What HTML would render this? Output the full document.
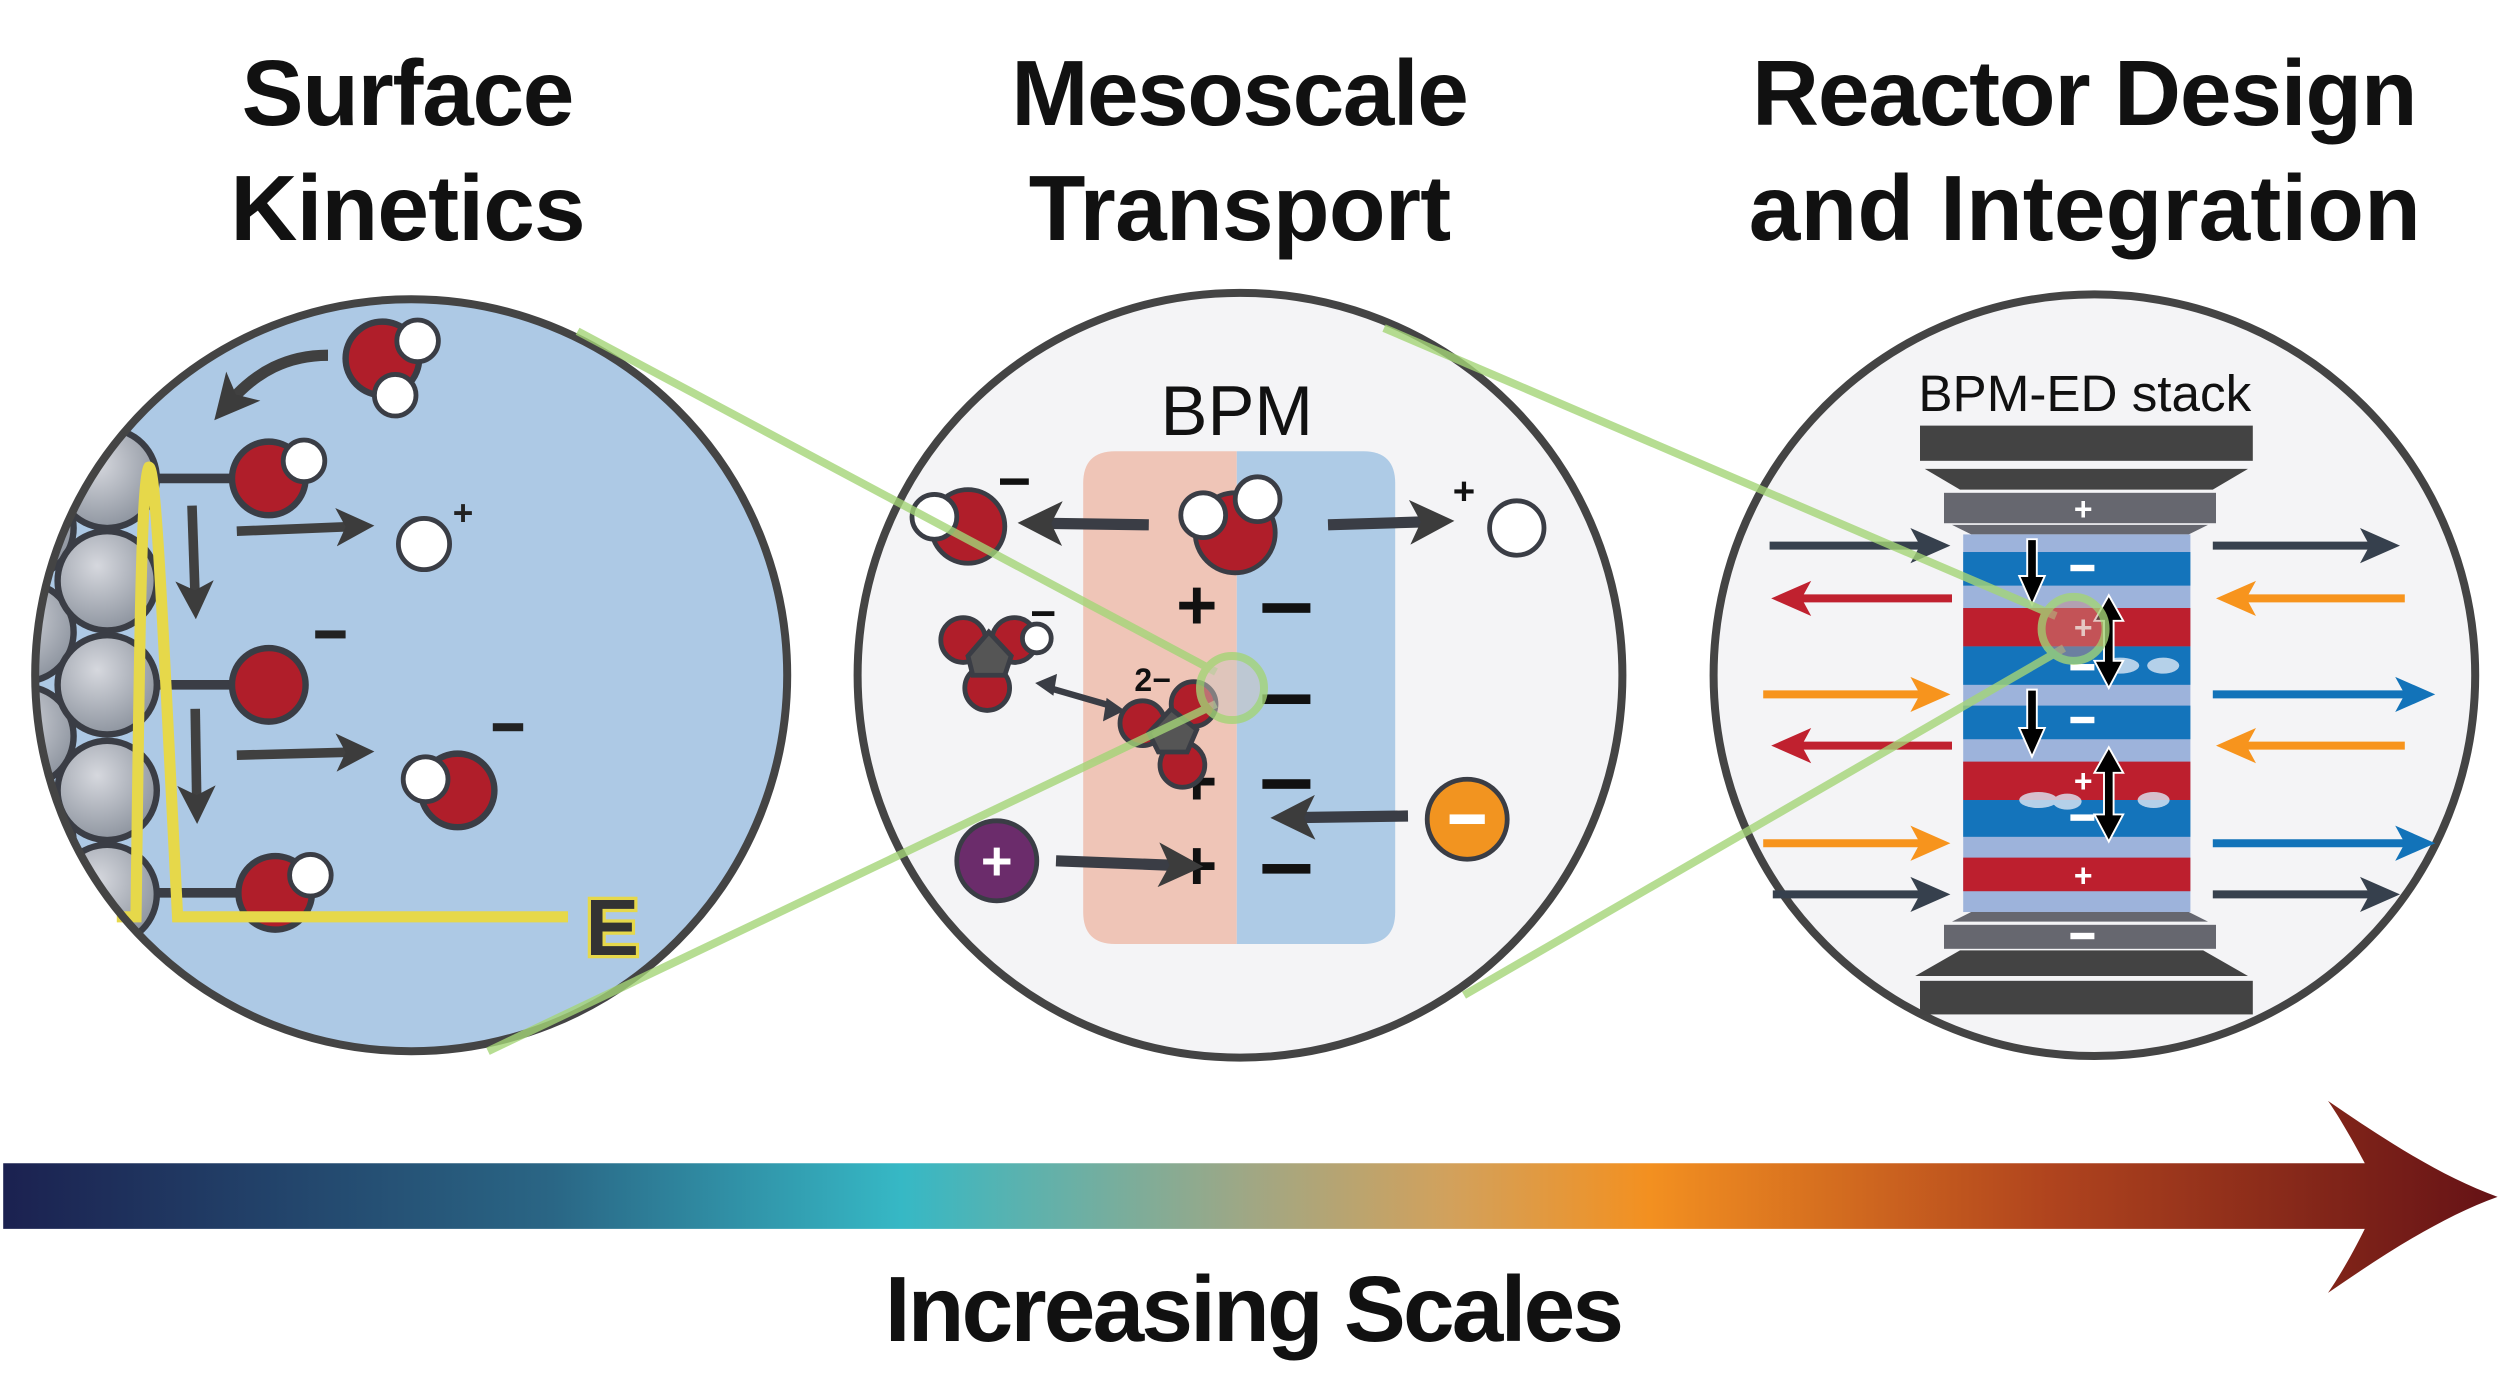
<!DOCTYPE html>
<html><head><meta charset="utf-8"><style>html,body{margin:0;padding:0;background:#fff}svg{display:block}</style></head><body>
<svg width="2500" height="1389" viewBox="0 0 1562.5 868.1" xmlns="http://www.w3.org/2000/svg" font-family="Liberation Sans, sans-serif">
<defs>
<radialGradient id="sph" cx="0.4" cy="0.35" r="0.7"><stop offset="0" stop-color="#d6d8de"/><stop offset="1" stop-color="#8a919c"/></radialGradient>
<linearGradient id="bar" x1="0" x2="1"><stop offset="0" stop-color="#1b2150"/><stop offset="0.22" stop-color="#2a6685"/><stop offset="0.36" stop-color="#36b8c5"/><stop offset="0.5" stop-color="#a0a784"/><stop offset="0.58" stop-color="#d2a15c"/><stop offset="0.66" stop-color="#f39020"/><stop offset="0.82" stop-color="#b0441e"/><stop offset="1" stop-color="#651216"/></linearGradient>
<clipPath id="cl"><circle cx="257" cy="422" r="235"/></clipPath>
<marker id="ah" markerWidth="4" markerHeight="4" refX="2" refY="2" orient="auto" markerUnits="strokeWidth"><path d="M0,0 L4,2 L0,4 L1,2Z" fill="#3c3c3c"/></marker>
</defs>
<g font-weight="bold" font-size="58" fill="#111" text-anchor="middle">
<text x="255" y="78" textLength="208">Surface</text>
<text x="255" y="150" textLength="222">Kinetics</text>
<text x="775" y="78" textLength="286">Mesoscale</text>
<text x="775" y="150" textLength="264">Transport</text>
<text x="1303" y="78" textLength="416">Reactor Design</text>
<text x="1303" y="150" textLength="420">and Integration</text>
<text x="784" y="838" textLength="462">Increasing Scales</text>
</g>
<circle cx="257" cy="422" r="235" fill="#adc9e5"/>
<g clip-path="url(#cl)" stroke="#3a3d45" stroke-width="4">
<g fill="url(#sph)">
<circle cx="15" cy="330" r="31"/><circle cx="15" cy="395" r="31"/><circle cx="15" cy="460" r="31"/><circle cx="15" cy="526" r="31"/><circle cx="15" cy="590" r="31"/>
<circle cx="67" cy="299" r="31"/><circle cx="67" cy="363" r="31"/><circle cx="67" cy="428" r="31"/><circle cx="67" cy="494" r="31"/><circle cx="67" cy="559" r="31"/><circle cx="67" cy="624" r="31"/>
</g>
<line x1="98" y1="299" x2="146" y2="299" stroke-width="6"/>
<line x1="98" y1="428" x2="146" y2="428" stroke-width="6"/>
<line x1="98" y1="558" x2="150" y2="558" stroke-width="6"/>
<g fill="#b01e2a"><circle cx="168" cy="299" r="23"/><circle cx="168" cy="428" r="23"/><circle cx="172" cy="558" r="23"/><circle cx="239" cy="224" r="23"/><circle cx="286" cy="494" r="23"/></g>
<g fill="#fff" stroke-width="3"><circle cx="190" cy="288" r="13"/><circle cx="194" cy="547" r="13"/><circle cx="261" cy="213" r="13"/><circle cx="247" cy="247" r="13"/><circle cx="266" cy="487" r="14"/><circle cx="265" cy="340" r="16"/></g>
</g>
<g fill="#222" font-weight="bold"><text x="283" y="328" font-size="22">+</text><rect x="197" y="394" width="19" height="5"/><rect x="308" y="452" width="19" height="5"/></g>
<g stroke="#404040" fill="#404040">
<path d="M148,332 L222,329" stroke-width="6" marker-end="url(#ah)"/>
<path d="M148,472 L222,470" stroke-width="6" marker-end="url(#ah)"/>
<path d="M120,316 L122,375" stroke-width="6" marker-end="url(#ah)"/>
<path d="M122,443 L123,503" stroke-width="6" marker-end="url(#ah)"/>
<path d="M205,222 C180,222 160,232 143,252" stroke-width="7" fill="none" marker-end="url(#ah)"/>
</g>
<path d="M73,573 L85,573 C87,420 88,300 93,292 C98,290 103,420 111,573 L355,573" stroke="#e6d84a" stroke-width="7" fill="none"/>
<text x="366" y="597" font-size="50" font-weight="bold" fill="#333" stroke="#e6d84a" stroke-width="4" paint-order="stroke">E</text>
<circle cx="257" cy="422" r="235" fill="none" stroke="#444" stroke-width="5"/>
<circle cx="775" cy="422" r="239" fill="#f4f4f6" stroke="#444" stroke-width="5"/>
<text x="773" y="272" font-size="44" text-anchor="middle" fill="#111">BPM</text>
<path d="M697,282 H773 V590 H697 Q677,590 677,570 V302 Q677,282 697,282Z" fill="#efc5b7"/>
<path d="M773,282 H852 Q872,282 872,302 V570 Q872,590 852,590 H773Z" fill="#aecbe6"/>
<g font-size="44" font-weight="bold" fill="#111" text-anchor="middle"><text x="748" y="393">+</text><text x="748" y="503">+</text><text x="748" y="556">+</text></g>
<g fill="#111"><rect x="789" y="377" width="30" height="6"/><rect x="789" y="434" width="30" height="6"/><rect x="789" y="487" width="30" height="6"/><rect x="789" y="540" width="30" height="6"/></g>
<g stroke="#3a3d45" stroke-width="3">
<circle cx="772" cy="333" r="25" fill="#b01e2a"/><circle cx="786" cy="312" r="14" fill="#fff"/><circle cx="752" cy="322" r="14" fill="#fff"/>
<circle cx="605" cy="329" r="23" fill="#b01e2a"/><circle cx="584" cy="323" r="14" fill="#fff"/>
<circle cx="948" cy="330" r="17" fill="#fff"/>
<circle cx="602" cy="400" r="14" fill="#b01e2a"/><circle cx="634" cy="400" r="14" fill="#b01e2a"/><circle cx="617" cy="430" r="14" fill="#b01e2a"/><polygon points="605,410 618,395 632,410 628,422 608,422" fill="#555"/><circle cx="648" cy="399" r="9" fill="#fff"/>
<circle cx="714" cy="452" r="14" fill="#b01e2a"/><circle cx="746" cy="440" r="14" fill="#b01e2a"/><circle cx="739" cy="478" r="14" fill="#b01e2a"/><polygon points="718,458 732,443 748,456 742,470 724,470" fill="#555"/>
<circle cx="623" cy="538" r="25" fill="#6b2c6b"/><circle cx="917" cy="512" r="25" fill="#f29420"/>
</g>
<g fill="#111" font-weight="bold"><rect x="625" y="299" width="18" height="4"/><text x="908" y="315" font-size="24">+</text><rect x="645" y="382" width="14" height="3"/><text x="709" y="432" font-size="20">2−</text></g>
<g fill="#fff" font-weight="bold"><text x="623" y="550" font-size="34" text-anchor="middle">+</text><rect x="906" y="509" width="22" height="6"/></g>
<g stroke="#3a3d45" fill="#3a3d45">
<path d="M718,328 L650,327" stroke-width="7" marker-end="url(#ah)"/>
<path d="M830,328 L895,326" stroke-width="7" marker-end="url(#ah)"/>
<path d="M660,538 L738,541" stroke-width="7" marker-end="url(#ah)"/>
<path d="M880,510 L808,511" stroke-width="7" marker-end="url(#ah)"/>
<path d="M656,430 L694,441" stroke-width="4"/>
<polygon points="648,427 660,422 658,434"/><polygon points="702,444 690,450 692,437"/>
</g>
<circle cx="1309" cy="422" r="238" fill="#f4f4f6" stroke="#444" stroke-width="5"/>
<text x="1303" y="257" font-size="32" text-anchor="middle" fill="#111">BPM-ED stack</text>
<rect x="1200" y="266" width="208" height="22" fill="#434343"/>
<polygon points="1203,293 1405,293 1383,306 1225,306" fill="#434343"/>
<rect x="1215" y="308" width="170" height="19" fill="#66676f"/>
<polygon points="1220,328 1380,328 1368,334 1232,334" fill="#66676f"/>
<g>
<rect x="1227" y="334" width="142" height="236" fill="#9db3db"/>
<rect x="1227" y="345" width="142" height="21" fill="#1474bb"/>
<rect x="1227" y="380" width="142" height="24" fill="#bd1f2e"/>
<rect x="1227" y="404" width="142" height="24" fill="#1474bb"/>
<rect x="1227" y="441" width="142" height="21" fill="#1474bb"/>
<rect x="1227" y="476" width="142" height="24" fill="#bd1f2e"/>
<rect x="1227" y="500" width="142" height="23" fill="#1474bb"/>
<rect x="1227" y="536" width="142" height="21" fill="#bd1f2e"/>
</g>
<polygon points="1232,570 1368,570 1380,576 1220,576" fill="#66676f"/>
<rect x="1215" y="578" width="170" height="15" fill="#66676f"/>
<polygon points="1225,594 1377,594 1405,610 1197,610" fill="#434343"/>
<rect x="1200" y="613" width="208" height="21" fill="#434343"/>
<g fill="#fff" font-weight="bold" font-size="20" text-anchor="middle"><text x="1302" y="325">+</text><text x="1302" y="399">+</text><text x="1302" y="495">+</text><text x="1302" y="554">+</text></g>
<g fill="#fff"><rect x="1294" y="353" width="15" height="4"/><rect x="1294" y="415" width="15" height="4"/><rect x="1294" y="448" width="15" height="4"/><rect x="1294" y="509" width="15" height="4"/><rect x="1294" y="583" width="15" height="4"/></g>
<g fill="#dde8f5" opacity="0.8"><ellipse cx="1325" cy="416" rx="12" ry="5"/><ellipse cx="1352" cy="416" rx="10" ry="5"/><ellipse cx="1274" cy="500" rx="12" ry="5"/><ellipse cx="1292" cy="501" rx="9" ry="5"/><ellipse cx="1346" cy="500" rx="10" ry="5"/></g>
<g fill="#000" stroke="#fff" stroke-width="1.2">
<path d="M1267,337 H1273 V360 H1278 L1270,378 L1262,360 H1267Z"/>
<path d="M1267,431 H1273 V455 H1278 L1270,473 L1262,455 H1267Z"/>
<path d="M1318,372 L1327,388 H1321 V413 H1327 L1318,430 L1309,413 H1315 V388 H1309Z"/>
<path d="M1318,467 L1327,483 H1321 V509 H1327 L1318,526 L1309,509 H1315 V483 H1309Z"/>
</g>
<g stroke-width="5">
<path d="M1106,341 H1205" stroke="#36404d"/><polygon points="1219,341 1194,330 1200,341 1194,352" fill="#36404d"/>
<path d="M1108,559 H1205" stroke="#36404d"/><polygon points="1219,559 1194,548 1200,559 1194,570" fill="#36404d"/>
<path d="M1125,374 H1220" stroke="#c0212f"/><polygon points="1107,374 1132,363 1126,374 1132,385" fill="#c0212f"/>
<path d="M1125,466 H1220" stroke="#c0212f"/><polygon points="1107,466 1132,455 1126,466 1132,477" fill="#c0212f"/>
<path d="M1102,434 H1205" stroke="#f7941d"/><polygon points="1219,434 1194,423 1200,434 1194,445" fill="#f7941d"/>
<path d="M1102,527 H1205" stroke="#f7941d"/><polygon points="1219,527 1194,516 1200,527 1194,538" fill="#f7941d"/>
<path d="M1383,341 H1485" stroke="#36404d"/><polygon points="1500,341 1475,330 1481,341 1475,352" fill="#36404d"/>
<path d="M1383,559 H1485" stroke="#36404d"/><polygon points="1500,559 1475,548 1481,559 1475,570" fill="#36404d"/>
<path d="M1400,374 H1503" stroke="#f7941d"/><polygon points="1385,374 1410,363 1404,374 1410,385" fill="#f7941d"/>
<path d="M1400,466 H1503" stroke="#f7941d"/><polygon points="1385,466 1410,455 1404,466 1410,477" fill="#f7941d"/>
<path d="M1383,434 H1505" stroke="#1273b9"/><polygon points="1522,434 1497,423 1503,434 1497,445" fill="#1273b9"/>
<path d="M1383,527 H1505" stroke="#1273b9"/><polygon points="1522,527 1497,516 1503,527 1497,538" fill="#1273b9"/>
</g>
<g stroke="#a4d477" stroke-width="5" fill="none" opacity="0.8">
<path d="M361,207 L760,420"/><path d="M305,657 L760,440"/>
<circle cx="770" cy="430" r="20" fill="#cfc7bf" fill-opacity="0.6"/>
<path d="M865,205 L1285,385"/><path d="M915,622 L1290,405"/>
<circle cx="1296" cy="393" r="20" fill="#c98c84" fill-opacity="0.6"/>
</g>
<path d="M2,727 H1478 C1470,712 1462,698 1455,688 C1490,712 1525,735 1561,748 C1525,761 1490,784 1455,808 C1462,798 1470,784 1478,768 H2Z" fill="url(#bar)"/>
</svg>
</body></html>
